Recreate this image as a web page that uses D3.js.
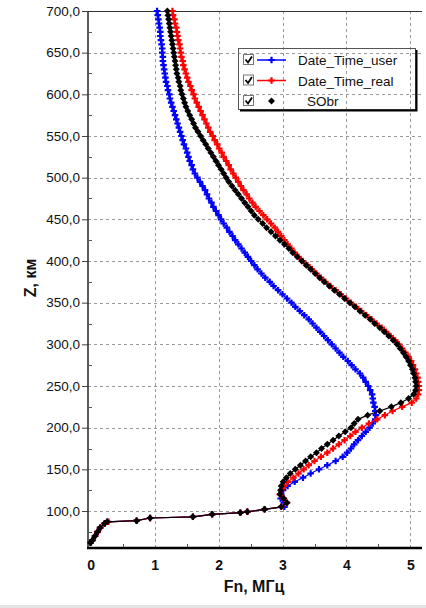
<!DOCTYPE html>
<html><head><meta charset="utf-8">
<script src="https://cdn.jsdelivr.net/npm/d3@7"></script>
<style>body{margin:0;background:#fff;} svg{display:block;font-family:"Liberation Sans",Arial,sans-serif;}</style>
</head><body><svg id="c" width="426" height="608"></svg>
<script>
// Altitude (km) of each profile point
const altitudes = [
 700,695,690,685,680,675,670,665,660,655,
 650,645,640,635,630,625,620,615,610,605,
 600,595,590,585,580,575,570,565,560,555,
 550,545,540,535,530,525,520,515,510,505,
 500,495,490,485,480,475,470,465,460,455,
 450,445,440,435,430,425,420,415,410,405,
 400,395,390,385,380,375,370,365,360,355,
 350,345,340,335,330,325,320,315,310,305,
 300,295,290,285,280,275,270,265,260,255,
 250,245,240,235,230,225,220,215,210,205,
 200,195,190,185,180,175,170,165,160,155,
 150,145,140,135,130,
 125,120,115,110,105,102,99,98,96,93,91.6,88.4,87,85,80,75,70,65,62
];
// Plasma frequency (MHz) per series
const fUser = [
 1.04,1.05,1.06,1.07,1.08,1.09,1.09,1.10,1.11,1.12,
 1.12,1.13,1.13,1.14,1.15,1.16,1.17,1.18,1.20,1.21,
 1.23,1.24,1.26,1.28,1.30,1.32,1.34,1.36,1.38,1.40,
 1.42,1.44,1.46,1.49,1.51,1.53,1.55,1.58,1.60,1.63,
 1.67,1.71,1.75,1.79,1.82,1.85,1.89,1.92,1.96,2.00,
 2.04,2.08,2.13,2.17,2.22,2.26,2.31,2.36,2.41,2.46,
 2.51,2.56,2.61,2.67,2.73,2.80,2.86,2.93,3.00,3.07,
 3.14,3.20,3.27,3.34,3.41,3.47,3.53,3.59,3.65,3.71,
 3.77,3.83,3.89,3.95,4.02,4.08,4.14,4.21,4.26,4.30,
 4.34,4.37,4.40,4.41,4.42,4.44,4.45,4.46,4.45,4.41,
 4.36,4.30,4.24,4.18,4.12,4.07,4.01,3.94,3.83,3.70,
 3.57,3.44,3.32,3.19,3.08,
 3.01,2.98,2.97,3.02,3.03,2.72,2.45,2.34,1.90,1.60,0.93,0.72,0.26,0.22,0.15,0.11,0.07,0.03,0.00
];
const fReal = [
 1.28,1.29,1.31,1.32,1.34,1.35,1.36,1.37,1.39,1.40,
 1.41,1.42,1.44,1.45,1.47,1.49,1.51,1.53,1.56,1.58,
 1.61,1.63,1.66,1.69,1.72,1.75,1.78,1.81,1.84,1.87,
 1.91,1.94,1.98,2.01,2.05,2.08,2.12,2.16,2.19,2.23,
 2.27,2.31,2.35,2.39,2.44,2.48,2.53,2.58,2.64,2.70,
 2.76,2.82,2.88,2.93,2.98,3.03,3.08,3.14,3.19,3.25,
 3.32,3.39,3.46,3.53,3.60,3.67,3.75,3.83,3.91,3.99,
 4.07,4.15,4.23,4.31,4.39,4.47,4.55,4.62,4.69,4.76,
 4.82,4.87,4.92,4.97,5.01,5.04,5.07,5.09,5.11,5.12,
 5.13,5.13,5.12,5.09,5.02,4.87,4.72,4.60,4.48,4.35,
 4.24,4.14,4.06,3.97,3.88,3.79,3.70,3.60,3.50,3.41,
 3.33,3.25,3.17,3.08,3.02,
 2.98,2.96,3.02,3.07,2.98,2.72,2.45,2.34,1.90,1.60,0.93,0.72,0.28,0.22,0.15,0.11,0.07,0.03,0.00
];
const fSObr = [
 1.20,1.21,1.22,1.23,1.24,1.25,1.26,1.27,1.28,1.29,
 1.30,1.31,1.32,1.33,1.34,1.35,1.37,1.38,1.40,1.41,
 1.43,1.45,1.47,1.49,1.52,1.55,1.58,1.61,1.64,1.68,
 1.72,1.76,1.80,1.84,1.88,1.92,1.96,2.00,2.04,2.08,
 2.12,2.16,2.21,2.26,2.31,2.36,2.41,2.46,2.51,2.56,
 2.62,2.69,2.75,2.82,2.89,2.96,3.03,3.10,3.16,3.23,
 3.30,3.37,3.44,3.51,3.58,3.65,3.73,3.81,3.89,3.97,
 4.05,4.13,4.21,4.29,4.37,4.44,4.52,4.59,4.66,4.73,
 4.79,4.84,4.89,4.93,4.97,5.00,5.03,5.05,5.07,5.08,
 5.09,5.08,5.05,4.97,4.85,4.70,4.52,4.33,4.18,4.12,
 4.07,3.98,3.88,3.79,3.70,3.61,3.53,3.44,3.36,3.28,
 3.20,3.12,3.06,3.01,2.98,
 2.97,2.96,3.02,3.07,2.98,2.72,2.45,2.34,1.90,1.60,0.93,0.72,0.26,0.22,0.15,0.11,0.07,0.03,0.00
];
const seriesNames = ["Date_Time_user", "Date_Time_real", "SObr"];
const xTicks = [0, 1, 2, 3, 4, 5];
const yTicks = [100, 150, 200, 250, 300, 350, 400, 450, 500, 550, 600, 650, 700];
const xTitle = "Fn, МГц";
const yTitle = "Z, км";

const seriesColors = ["#0000ff", "#ff0000", "#000000"];
const seriesValues = [fUser, fReal, fSObr];

const svg = d3.select("#c");
const x = d3.scaleLinear().domain([-0.04, 5.18]).range([88, 422]);
const y = d3.scaleLinear().domain([55.6, 700]).range([548, 11]);
const [x0, x1] = x.range();
const [yb, yt] = y.range();

// grid
const grid = svg.append("g").attr("stroke", "#9a9a9a").attr("stroke-width", 1).attr("stroke-dasharray", "3,3");
yTicks.filter(t => t < 700).forEach(t => {
  grid.append("line").attr("x1", x0).attr("x2", x1).attr("y1", Math.round(y(t)) + 0.5).attr("y2", Math.round(y(t)) + 0.5);
});
xTicks.filter(t => t > 0).forEach(t => {
  grid.append("line").attr("y1", yt).attr("y2", yb).attr("x1", Math.round(x(t)) + 0.5).attr("x2", Math.round(x(t)) + 0.5);
});

// top frame
svg.append("line").attr("x1", x0).attr("x2", x1).attr("y1", yt + 0.5).attr("y2", yt + 0.5).attr("stroke", "#333").attr("stroke-width", 1);

// y axis
const yAxis = d3.axisLeft(y).tickValues(yTicks).tickSize(6).tickPadding(2)
  .tickFormat(d => d3.format(".1f")(d).replace(".", ","));
const gy = svg.append("g").attr("transform", `translate(${x0},0)`).call(yAxis);
gy.select(".domain").remove();
gy.selectAll(".tick line").attr("stroke", "#444");
gy.selectAll(".tick text").attr("font-size", 13.5).attr("fill", "#111").attr("font-family", '"Liberation Sans",Arial,sans-serif');
svg.append("line").attr("x1", x0).attr("x2", x0).attr("y1", yt).attr("y2", yb).attr("stroke", "#333").attr("stroke-width", 1.6);
// y minor ticks
d3.range(75, 700, 50).forEach(t => {
  svg.append("line").attr("x1", x0).attr("x2", x0 + 4).attr("y1", Math.round(y(t)) + 0.5).attr("y2", Math.round(y(t)) + 0.5).attr("stroke", "#555");
});

// x axis
const xAxis = d3.axisBottom(x).tickValues(xTicks).tickSize(0).tickPadding(12).tickFormat(d3.format("d"));
const gx = svg.append("g").attr("transform", `translate(0,${yb})`).call(xAxis);
gx.select(".domain").remove();
gx.selectAll(".tick text").attr("font-size", 14).attr("font-weight", "bold").attr("fill", "#111").attr("font-family", '"Liberation Sans",Arial,sans-serif');
d3.range(0.5, 5.2, 1).forEach(t => {
  svg.append("line").attr("x1", Math.round(x(t)) + 0.5).attr("x2", Math.round(x(t)) + 0.5).attr("y1", yb - 4).attr("y2", yb).attr("stroke", "#555");
});
svg.append("line").attr("x1", x0 - 1).attr("x2", x1).attr("y1", yb).attr("y2", yb).attr("stroke", "#000").attr("stroke-width", 2.6);

// axis titles
svg.append("text").attr("x", 254).attr("y", 592).attr("text-anchor", "middle")
  .attr("font-size", 16).attr("font-weight", "bold").attr("fill", "#111").text(xTitle);
svg.append("text").attr("transform", "translate(36,278) rotate(-90)").attr("text-anchor", "middle")
  .attr("font-size", 16).attr("font-weight", "bold").attr("fill", "#111").text(yTitle);

// series
const symbols = [d3.symbolCross, d3.symbolCross, d3.symbolSquare];
const symSizes = [24, 24, 24];
const line = d3.line().x(d => x(d.f)).y(d => y(d.z));
seriesValues.forEach((vals, i) => {
  const pts = altitudes.map((z, k) => ({ z, f: vals[k] }));
  const g = svg.append("g");
  g.append("path").datum(pts).attr("d", line).attr("fill", "none").attr("stroke", seriesColors[i]).attr("stroke-width", 1.2);
  g.selectAll("path.m").data(pts).join("path").attr("class", "m")
    .attr("transform", d => `translate(${x(d.f)},${y(d.z)})${i === 2 ? " rotate(45)" : ""}`)
    .attr("d", d3.symbol().type(symbols[i]).size(symSizes[i])).attr("fill", seriesColors[i]);
});

// legend
const lg = svg.append("g").attr("transform", "translate(238,48)");
const lw = 177, lh = 61;
lg.append("rect").attr("x", 0.5).attr("y", 0.5).attr("width", lw).attr("height", lh).attr("fill", "none").attr("stroke", "#555");
lg.append("path").attr("d", `M${lw + 1.5},2 V${lh + 1.5} H2`).attr("fill", "none").attr("stroke", "#000").attr("stroke-width", 2);
seriesNames.forEach((name, i) => {
  const cy = 12 + i * 20.5;
  const row = lg.append("g").attr("transform", `translate(0,${cy})`);
  row.append("rect").attr("x", 5.5).attr("y", -5.5).attr("width", 10).attr("height", 10).attr("fill", "#fff").attr("stroke", "#777");
  row.append("path").attr("d", "M7.5,-0.5 L10,2.5 L14,-3.5").attr("fill", "none").attr("stroke", "#000").attr("stroke-width", 1.8);
  if (i < 2) {
    row.append("line").attr("x1", 19).attr("x2", 48).attr("y1", 0).attr("y2", 0).attr("stroke", seriesColors[i]).attr("stroke-width", 1.5);
  }
  row.append("path").attr("transform", `translate(33.5,0)${i === 2 ? " rotate(45)" : ""}`)
    .attr("d", d3.symbol().type(symbols[i]).size(symSizes[i])).attr("fill", seriesColors[i]);
  row.append("text").attr("x", i === 2 ? 69 : 60).attr("y", 5).attr("font-size", 13.5).attr("fill", "#111").text(name);
});

// window bottom edge
svg.append("rect").attr("x", 0).attr("y", 605).attr("width", 426).attr("height", 3).attr("fill", "#e4e4e4");
</script>
</body></html>
